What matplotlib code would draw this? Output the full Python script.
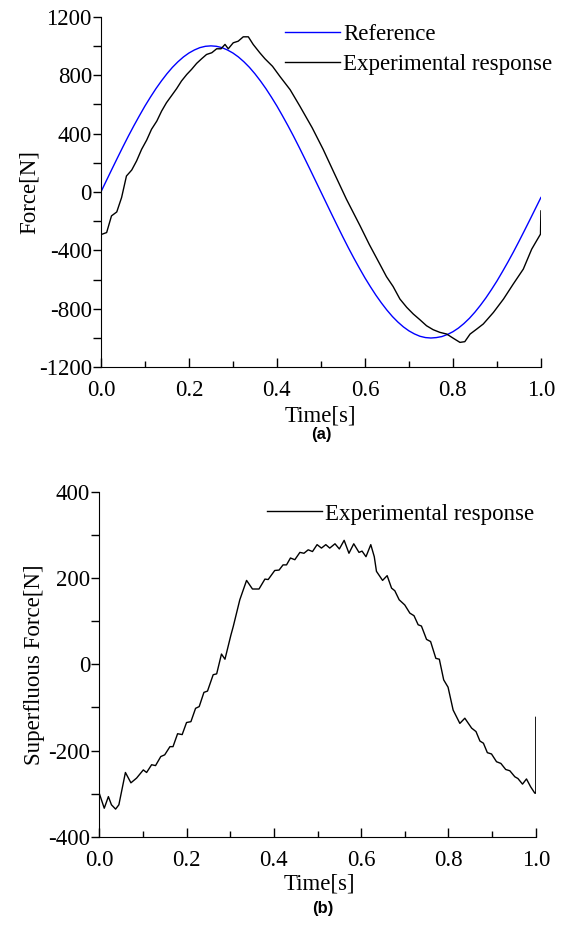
import matplotlib
matplotlib.use("Agg")
import matplotlib.pyplot as plt
from matplotlib.ticker import MultipleLocator, FormatStrFormatter

# (a) reference force signal, sampled every 0.0125 s
t_ref = [i * 0.0125 for i in range(81)]
f_ref = [0, 78, 156, 233, 309, 383, 454, 522, 588, 649,
         707, 760, 809, 853, 891, 924, 951, 972, 988, 997,
         1000, 997, 988, 972, 951, 924, 891, 853, 809, 760,
         707, 649, 588, 522, 454, 383, 309, 233, 156, 78,
         0, -78, -156, -233, -309, -383, -454, -522, -588, -649,
         -707, -760, -809, -853, -891, -924, -951, -972, -988, -997,
         -1000, -997, -990, -976, -957, -932, -901, -865, -823, -776,
         -725, -669, -610, -546, -480, -411, -339, -265, -190, -114, -38]

# (a) experimental response
t_exp = [0.0, 0.003, 0.013, 0.024, 0.036, 0.047, 0.058, 0.070, 0.081, 0.0925,
         0.104, 0.115, 0.127, 0.138, 0.149, 0.161, 0.172, 0.183, 0.195, 0.206,
         0.2175, 0.229, 0.240, 0.252, 0.263, 0.273, 0.282, 0.2894, 0.3007, 0.312,
         0.3235, 0.335, 0.346, 0.361, 0.3727, 0.39, 0.407, 0.43, 0.452, 0.48,
         0.505, 0.53, 0.558, 0.589, 0.61, 0.634, 0.649, 0.664, 0.6795, 0.695,
         0.710, 0.725, 0.740, 0.755, 0.770, 0.786, 0.801, 0.816, 0.827, 0.839,
         0.854, 0.869, 0.892, 0.915, 0.937, 0.960, 0.979, 0.990, 0.999, 1.0]
f_exp = [-290, -289, -278, -164, -137, -38, 109, 150, 212, 292,
         355, 429, 485, 554, 611, 661, 707, 759, 804, 839,
         880, 912, 941, 953, 980, 980, 1010, 980, 1021, 1032,
         1062, 1062, 1010, 953, 912, 860, 790, 700, 588, 440,
         292, 130, -50, -232, -360, -495, -580, -647, -733, -790,
         -836, -875, -916, -943, -961, -973, -1002, -1030, -1025, -973,
         -939, -904, -825, -733, -631, -528, -392, -335, -289, -130]

# (b) superfluous force
t_sup = [0.0, 0.0115, 0.021, 0.028, 0.0375, 0.045, 0.060, 0.0726, 0.0856, 0.101,
         0.1085, 0.120, 0.129, 0.141, 0.150, 0.162, 0.169, 0.1795, 0.190, 0.200,
         0.210, 0.2207, 0.229, 0.2398, 0.248, 0.261, 0.269, 0.280, 0.288, 0.3016,
         0.307, 0.322, 0.3375, 0.351, 0.366, 0.3795, 0.387, 0.402, 0.412, 0.421,
         0.429, 0.438, 0.448, 0.4596, 0.469, 0.4786, 0.4885, 0.499, 0.509, 0.519,
         0.528, 0.540, 0.550, 0.561, 0.572, 0.583, 0.595, 0.602, 0.611, 0.622,
         0.630, 0.635, 0.649, 0.6595, 0.6696, 0.677, 0.687, 0.6998, 0.7115, 0.721,
         0.7305, 0.738, 0.7497, 0.759, 0.771, 0.779, 0.789, 0.799, 0.8106, 0.826,
         0.8374, 0.853, 0.863, 0.872, 0.880, 0.889, 0.8985, 0.910, 0.920, 0.931,
         0.9405, 0.952, 0.959, 0.9695, 0.9786, 0.988, 0.9977, 1.0, 1.0]
f_sup = [-299, -334, -307, -326, -336, -326, -251, -275, -264, -245,
         -251, -233, -235, -214, -210, -191, -191, -161, -163, -135,
         -133, -102, -98, -65, -62, -24, -22, 24, 12, 68,
         88, 150, 195, 175, 175, 198, 197, 218, 219, 231,
         231, 247, 243, 260, 258, 266, 262, 278, 270, 278,
         270, 280, 268, 288, 258, 280, 260, 263, 250, 278,
         250, 216, 195, 206, 177, 171, 150, 138, 119, 113,
         92, 89, 58, 53, 14, 12, -36, -53, -106, -137,
         -125, -148, -156, -178, -183, -205, -208, -226, -230, -244,
         -247, -261, -265, -278, -266, -284, -299, -299, -123]

plt.rcParams["font.family"] = ["Liberation Serif", "DejaVu Serif"]
plt.rcParams["font.size"] = 16.5
plt.rcParams["axes.unicode_minus"] = False

fig = plt.figure(figsize=(5.67, 9.25), dpi=100)
ax1 = fig.add_axes([0.178, 0.603, 0.776, 0.379])
ax2 = fig.add_axes([0.175, 0.0955, 0.770, 0.3725])


def style_axis(ax):
    for side in ("top", "right"):
        ax.spines[side].set_visible(False)
    ax.xaxis.set_major_locator(MultipleLocator(0.2))
    ax.xaxis.set_minor_locator(MultipleLocator(0.1))
    ax.xaxis.set_major_formatter(FormatStrFormatter("%.1f"))
    ax.tick_params(axis="x", which="major", direction="in", length=6.5, width=1, pad=9.5)
    ax.tick_params(axis="x", which="minor", direction="in", length=4.3, width=1)
    ax.tick_params(axis="y", which="both", direction="out", length=5.5, width=1, pad=1)
    ax.set_xlim(0, 1.0)


# panel (a)
ax1.plot(t_ref, f_ref, color="#0000ff", lw=1.0, label="Reference")
ax1.plot(t_exp, f_exp, color="black", lw=1.0, label="Experimental response")
style_axis(ax1)
ax1.set_ylim(-1200, 1200)
ax1.yaxis.set_major_locator(MultipleLocator(400))
ax1.yaxis.set_minor_locator(MultipleLocator(200))
ax1.set_xlabel("Time[s]")
ax1.set_ylabel("Force[N]")
ax1.xaxis.set_label_coords(0.498, -0.108)
ax1.yaxis.set_label_coords(-0.14, 0.5)
ax1.legend(loc="upper left", bbox_to_anchor=(0.418, 0.979), frameon=False,
           handlelength=2.4, handletextpad=0.15, borderpad=0, borderaxespad=0,
           labelspacing=0.39)

# panel (b)
ax2.plot(t_sup, f_sup, color="black", lw=1.0, label="Experimental response")
style_axis(ax2)
ax2.set_ylim(-400, 400)
ax2.yaxis.set_major_locator(MultipleLocator(200))
ax2.yaxis.set_minor_locator(MultipleLocator(100))
ax2.set_xlabel("Time[s]")
ax2.set_ylabel("Superfluous Force[N]")
ax2.xaxis.set_label_coords(0.505, -0.108)
ax2.yaxis.set_label_coords(-0.125, 0.5)
ax2.legend(loc="upper left", bbox_to_anchor=(0.384, 0.967), frameon=False,
           handlelength=2.4, handletextpad=0.15, borderpad=0, borderaxespad=0)

fig.text(321 / 567, 1 - 434 / 925, "(a)", family="Liberation Sans",
         fontweight="bold", fontsize=12, ha="center", va="center")
fig.text(323 / 567, 1 - 909 / 925, "(b)", family="Liberation Sans",
         fontweight="bold", fontsize=12, ha="center", va="center")

fig.savefig("out.png", dpi=100)
